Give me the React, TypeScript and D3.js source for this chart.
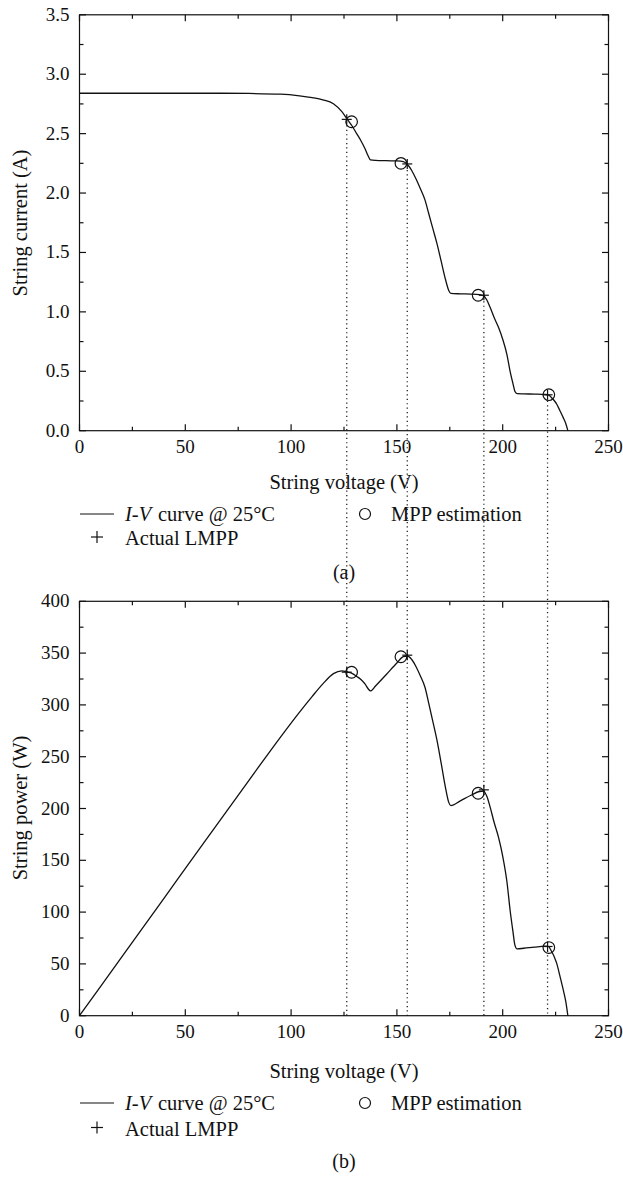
import React from "react";
import * as d3 from "d3";

// ---- data ----
const voltage = [0, 20, 40, 60, 80, 95, 104, 110, 115, 120, 124, 126.7, 129, 131, 133, 135, 136.5, 137.5, 140, 145, 150, 153, 155, 157, 159, 161, 163.3, 165, 167, 169, 171, 173, 174.5, 175.5, 180, 185, 189, 191, 192.5, 194, 196, 198, 200, 202, 203.5, 204.8, 205.8, 206.8, 210, 215, 220, 221.6, 223, 224.5, 225.5, 227, 228.6, 229.8, 230.8];
const current = [2.84, 2.84, 2.84, 2.84, 2.838, 2.832, 2.818, 2.803, 2.785, 2.752, 2.685, 2.617, 2.56, 2.5, 2.44, 2.37, 2.31, 2.28, 2.275, 2.272, 2.27, 2.265, 2.24, 2.19, 2.12, 2.04, 1.94, 1.83, 1.7, 1.57, 1.42, 1.27, 1.18, 1.155, 1.152, 1.15, 1.145, 1.135, 1.1, 1.04, 0.95, 0.87, 0.77, 0.64, 0.5, 0.4, 0.33, 0.312, 0.31, 0.308, 0.305, 0.302, 0.28, 0.25, 0.225, 0.17, 0.11, 0.06, 0.0];
const power = [0, 56.8, 113.6, 170.4, 227.0, 269.0, 293.1, 308.3, 320.3, 330.2, 332.9, 331.6, 330.2, 327.5, 324.5, 320.0, 315.3, 313.5, 318.5, 329.4, 340.5, 346.5, 347.2, 343.8, 337.1, 328.4, 316.8, 302.0, 283.9, 265.3, 242.8, 219.7, 205.9, 202.7, 207.4, 212.8, 216.4, 216.8, 211.8, 201.8, 186.2, 172.3, 154.0, 129.3, 101.8, 81.9, 67.9, 64.5, 65.1, 66.2, 67.1, 66.9, 62.4, 56.1, 50.7, 38.6, 25.1, 13.8, 0];

// MPP estimation (circles)
const mppV = [128.6, 151.9, 188.4, 221.8];
const mppI = [2.6, 2.25, 1.14, 0.303];
const mppP = [331.5, 346.5, 214.7, 65.8];
// Actual LMPP (plus)
const lmppV = [126.3, 154.9, 191.1, 221.2];
const lmppI = [2.62, 2.245, 1.14, 0.302];
const lmppP = [331.6, 348, 218, 66.8];

const xTicks = [0, 50, 100, 150, 200, 250];
const xMinor = [25, 75, 125, 175, 225];
const iTicks = [0, 0.5, 1.0, 1.5, 2.0, 2.5, 3.0, 3.5];
const iMinor = [0.25, 0.75, 1.25, 1.75, 2.25, 2.75, 3.25];
const pTicks = [0, 50, 100, 150, 200, 250, 300, 350, 400];
const pMinor = [25, 75, 125, 175, 225, 275, 325, 375];

const FONT = "Liberation Serif, Tinos, Times New Roman, Times, DejaVu Serif, serif";

const x = d3.scaleLinear().domain([0, 250]).range([79.5, 608.5]);
const yI = d3.scaleLinear().domain([0, 3.5]).range([430.7, 14.8]);
const yP = d3.scaleLinear().domain([0, 400]).range([1015.7, 601.3]);

function Frame({ y, ticks, minor, fmt }: { y: d3.ScaleLinear<number, number>; ticks: number[]; minor: number[]; fmt: (v: number) => string }) {
  const [y0, y1] = y.range();
  const x0 = x(0), x1 = x(250);
  const MAJ = 6.5, MIN = 4;
  return (
    <g stroke="#111" strokeWidth={1.2} fill="none">
      <rect x={x0} y={y1} width={x1 - x0} height={y0 - y1} />
      {xTicks.map((t) => (
        <g key={"xt" + t}>
          <line x1={x(t)} x2={x(t)} y1={y0} y2={y0 - MAJ} />
          <line x1={x(t)} x2={x(t)} y1={y1} y2={y1 + MAJ} />
        </g>
      ))}
      {xMinor.map((t) => (
        <g key={"xm" + t}>
          <line x1={x(t)} x2={x(t)} y1={y0} y2={y0 - MIN} />
          <line x1={x(t)} x2={x(t)} y1={y1} y2={y1 + MIN} />
        </g>
      ))}
      {ticks.map((t) => (
        <g key={"yt" + t}>
          <line x1={x0} x2={x0 + MAJ} y1={y(t)} y2={y(t)} />
          <line x1={x1} x2={x1 - MAJ} y1={y(t)} y2={y(t)} />
        </g>
      ))}
      {minor.map((t) => (
        <g key={"ym" + t}>
          <line x1={x0} x2={x0 + MIN} y1={y(t)} y2={y(t)} />
          <line x1={x1} x2={x1 - MIN} y1={y(t)} y2={y(t)} />
        </g>
      ))}
      <g stroke="none" fill="#111" style={{ fontFamily: FONT }} fontSize={19}>
        {xTicks.map((t) => (
          <text key={"xl" + t} x={x(t)} y={y0 + 22.5} textAnchor="middle">{t}</text>
        ))}
        {ticks.map((t) => (
          <text key={"yl" + t} x={69.5} y={y(t) + 6} textAnchor="end">{fmt(t)}</text>
        ))}
      </g>
    </g>
  );
}

function Markers({ cv, cy, pv, py, y }: { cv: number[]; cy: number[]; pv: number[]; py: number[]; y: d3.ScaleLinear<number, number> }) {
  return (
    <g stroke="#111" strokeWidth={1.2} fill="none">
      {cv.map((v, i) => (
        <circle key={"c" + i} cx={x(v)} cy={y(cy[i])} r={5.8} />
      ))}
      {pv.map((v, i) => (
        <g key={"p" + i}>
          <line x1={x(v) - 5} x2={x(v) + 5} y1={y(py[i])} y2={y(py[i])} />
          <line x1={x(v)} x2={x(v)} y1={y(py[i]) - 5} y2={y(py[i]) + 5} />
        </g>
      ))}
    </g>
  );
}

function Legend({ y1, y2 }: { y1: number; y2: number }) {
  return (
    <g style={{ fontFamily: FONT }} fontSize={20.5} fill="#111">
      <line x1={80} x2={114} y1={y1 - 7} y2={y1 - 7} stroke="#111" strokeWidth={1.2} />
      <text x={125} y={y1} fontStyle="italic">I-V</text>
      <text x={158} y={y1}>curve @ 25°C</text>
      <circle cx={365} cy={y1 - 7} r={5.5} fill="none" stroke="#111" strokeWidth={1.2} />
      <text x={391} y={y1}>MPP estimation</text>
      <line x1={91} x2={103} y1={y2 - 8} y2={y2 - 8} stroke="#111" strokeWidth={1.2} />
      <line x1={97} x2={97} y1={y2 - 14} y2={y2 - 2} stroke="#111" strokeWidth={1.2} />
      <text x={125} y={y2}>Actual LMPP</text>
    </g>
  );
}

export default function App() {
  const ivLine = d3
    .line<number>()
    .x((_, i) => x(voltage[i]))
    .y((d) => yI(d))
    .curve(d3.curveMonotoneX);
  const pLine = d3
    .line<number>()
    .x((_, i) => x(voltage[i]))
    .y((d) => yP(d))
    .curve(d3.curveMonotoneX);

  const lbl = { fontFamily: FONT };

  return (
    <svg width={623} height={1179} style={{ position: "absolute", left: 0, top: 0, background: "#fff", fontFamily: FONT }}>
      <rect width={623} height={1179} fill="#fff" />
      {/* dotted guide lines */}
      <g stroke="#222" strokeWidth={1.3} strokeDasharray="1.2,3.2">
        {lmppV.map((v, i) => (
          <line key={"d" + i} x1={x(v)} x2={x(v)} y1={yI(lmppI[i]) + 6} y2={yP(0)} />
        ))}
      </g>

      {/* top plot */}
      <Frame y={yI} ticks={iTicks} minor={iMinor} fmt={(v) => v.toFixed(1)} />
      <path d={ivLine(current) || ""} fill="none" stroke="#111" strokeWidth={1.3} />
      <Markers cv={mppV} cy={mppI} pv={lmppV} py={lmppI} y={yI} />
      <text x={344} y={489} textAnchor="middle" style={lbl} fontSize={20.5} fill="#111">String voltage (V)</text>
      <text transform={`translate(27,223) rotate(-90)`} textAnchor="middle" style={lbl} fontSize={20.5} fill="#111">String current (A)</text>
      <Legend y1={521} y2={545} />
      <text x={344} y={578.5} textAnchor="middle" style={lbl} fontSize={20} fill="#111">(a)</text>

      {/* bottom plot */}
      <Frame y={yP} ticks={pTicks} minor={pMinor} fmt={(v) => String(v)} />
      <path d={pLine(power) || ""} fill="none" stroke="#111" strokeWidth={1.3} />
      <Markers cv={mppV} cy={mppP} pv={lmppV} py={lmppP} y={yP} />
      <text x={344} y={1078} textAnchor="middle" style={lbl} fontSize={20.5} fill="#111">String voltage (V)</text>
      <text transform={`translate(27,808) rotate(-90)`} textAnchor="middle" style={lbl} fontSize={20.5} fill="#111">String power (W)</text>
      <Legend y1={1110} y2={1135.5} />
      <text x={344} y={1168} textAnchor="middle" style={lbl} fontSize={20} fill="#111">(b)</text>
    </svg>
  );
}
